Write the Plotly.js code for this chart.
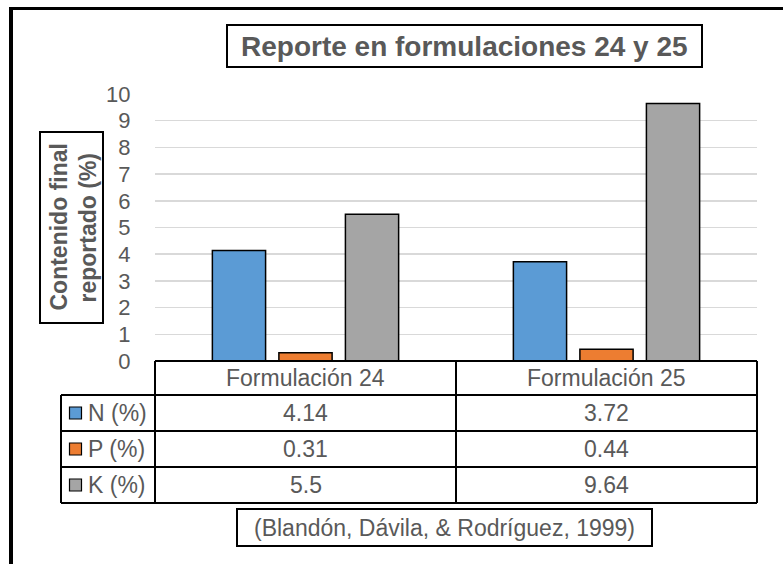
<!DOCTYPE html>
<html>
<head>
<meta charset="utf-8">
<script src="https://cdn.plot.ly/plotly-3.0.1.min.js"></script>
<style>html,body{margin:0;padding:0;background:#fff;}#chart{width:783px;height:564px;}</style>
</head>
<body>
<div id="chart"></div>
<script>
// ---- data ----
const categories = ["Formulación 24", "Formulación 25"];
const seriesNames = ["N (%)", "P (%)", "K (%)"];
const nValues = [4.14, 3.72];
const pValues = [0.31, 0.44];
const kValues = [5.5, 9.64];
const yTicks = [0, 1, 2, 3, 4, 5, 6, 7, 8, 9, 10];
const titleText = "Reporte en formulaciones 24 y 25";
const yTitleLines = ["Contenido final", "reportado (%)"];
const sourceText = "(Blandón, Dávila, & Rodríguez, 1999)";

const seriesValues = [nValues, pValues, kValues];
const colors = ["#5B9BD5", "#ED7D31", "#A5A5A5"];

// ---- geometry helpers (pixel -> paper) ----
const W = 783, H = 564;
const L = 155, R = 757, T = 94, B = 361;
const px = v => (v - L) / (R - L);
const py = v => (B - v) / (B - T);
const FONT = "Liberation Sans, Arial, sans-serif";
const TXT = "#595959";
const TS = 23;

const traces = seriesNames.map((name, i) => ({
  type: "bar",
  name: name,
  x: categories,
  y: seriesValues[i],
  marker: {color: colors[i], line: {color: "#000", width: 1.5}},
  hoverinfo: "skip"
}));

const shapes = [];
const annotations = [];
const line = (x0, y0, x1, y1, w, c) => shapes.push({
  type: "line", xref: "paper", yref: "paper",
  x0: px(x0), y0: py(y0), x1: px(x1), y1: py(y1),
  line: {color: c || "#000", width: w || 2}
});
const rect = (x0, y0, x1, y1, w, fill) => shapes.push({
  type: "rect", xref: "paper", yref: "paper",
  x0: px(x0), y0: py(y0), x1: px(x1), y1: py(y1),
  line: {color: "#000", width: w || 2}, fillcolor: fill || "rgba(0,0,0,0)"
});

// outer frame
line(11, 8, 11, 570, 4);
line(9, 8.5, 790, 8.5, 3);

// title box
rect(227, 25, 702, 67, 2);
annotations.push({xref: "paper", yref: "paper", x: px(464.5), y: py(46.5), text: "<b>" + titleText + "</b>",
  showarrow: false, xanchor: "center", yanchor: "middle", font: {family: FONT, size: 28, color: TXT}});

// y title box
rect(40, 132, 103, 323, 2);
annotations.push({xref: "paper", yref: "paper", x: px(58), y: py(227.5), text: "<b>" + yTitleLines[0] + "</b>",
  showarrow: false, textangle: -90, xanchor: "center", yanchor: "middle", font: {family: FONT, size: 23, color: TXT}});
annotations.push({xref: "paper", yref: "paper", x: px(87), y: py(227.5), text: "<b>" + yTitleLines[1] + "</b>",
  showarrow: false, textangle: -90, xanchor: "center", yanchor: "middle", font: {family: FONT, size: 23, color: TXT}});

// data table
const rowTops = [361, 395, 431, 467, 503];
line(L, 361, R, 361, 2);
for (let r = 1; r < rowTops.length; r++) line(61, rowTops[r], R, rowTops[r], 2);
line(L, 361, L, 503, 2);
line(456, 361, 456, 503, 2);
line(R, 361, R, 503, 2);
line(61, 395, 61, 503, 2);

categories.forEach(c => annotations.push({xref: "x", yref: "paper", x: c, y: py(378), text: c,
  showarrow: false, xanchor: "center", yanchor: "middle", font: {family: FONT, size: TS, color: TXT}}));

seriesNames.forEach((name, i) => {
  const yc = (rowTops[i + 1] + rowTops[i + 2]) / 2;
  rect(69.5, yc - 6, 81.5, yc + 6, 1.2, colors[i]);
  annotations.push({xref: "paper", yref: "paper", x: px(86), y: py(yc), text: name,
    showarrow: false, xanchor: "left", yanchor: "middle", font: {family: FONT, size: TS, color: TXT}});
  categories.forEach((c, j) => annotations.push({xref: "x", yref: "paper", x: c, y: py(yc),
    text: String(seriesValues[i][j]), showarrow: false, xanchor: "center", yanchor: "middle",
    font: {family: FONT, size: TS, color: TXT}}));
});

// source box
rect(237, 509, 652, 546, 2);
annotations.push({xref: "paper", yref: "paper", x: px(444.5), y: py(527.5), text: sourceText,
  showarrow: false, xanchor: "center", yanchor: "middle", font: {family: FONT, size: TS, color: TXT}});

const layout = {
  width: W, height: H,
  margin: {l: L, r: W - R, t: T, b: H - B, pad: 0},
  paper_bgcolor: "#fff", plot_bgcolor: "#fff",
  barmode: "group", bargap: 0.337, bargroupgap: 0.2,
  showlegend: false,
  font: {family: FONT, color: TXT},
  xaxis: {showticklabels: false, showgrid: false, zeroline: false, showline: false, ticks: "", fixedrange: true},
  yaxis: {range: [0, 10], tickvals: yTicks, ticktext: yTicks.map(String), showgrid: true, gridcolor: "#D9D9D9", gridwidth: 1.5,
    zeroline: false, showline: false, ticks: "outside", ticklen: 19, tickcolor: "rgba(0,0,0,0)",
    tickfont: {family: FONT, size: 22, color: TXT}, fixedrange: true},
  shapes: shapes,
  annotations: annotations
};

Plotly.newPlot("chart", traces, layout, {displayModeBar: false, staticPlot: true});
</script>
</body>
</html>
